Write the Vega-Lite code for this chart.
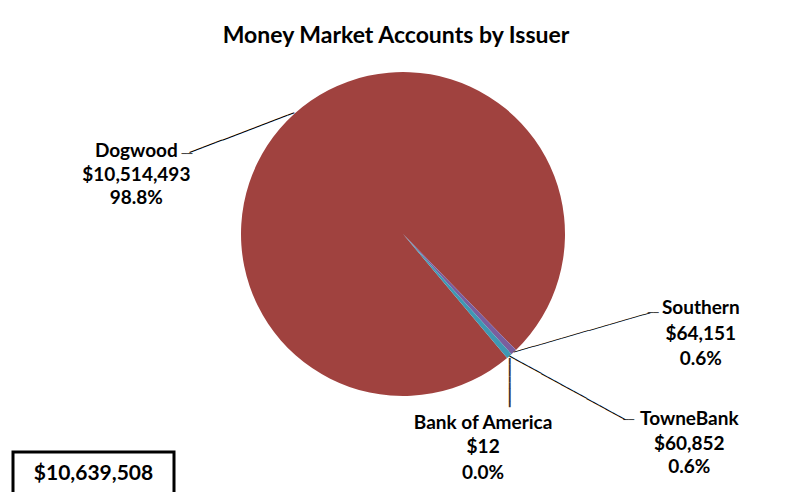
{
  "$schema": "https://vega.github.io/schema/vega-lite/v6.json",
  "padding": {"left": 11, "top": 16, "right": 0, "bottom": 0},
  "background": "white",
  "bounds": "flush",
  "spacing": 0,
  "config": {
    "view": {"stroke": null},
    "font": "Lato",
    "text": {"font": "Lato", "fontWeight": "bold", "fontSize": 19, "color": "#000000"}
  },
  "datasets": {
    "issuers": [
      {"issuer": "Bank of America", "value": 12, "share": 0.0},
      {"issuer": "Dogwood", "value": 10514493, "share": 0.988},
      {"issuer": "Southern", "value": 64151, "share": 0.006},
      {"issuer": "TowneBank", "value": 60852, "share": 0.006}
    ]
  },
  "data": {"name": "issuers"},
  "vconcat": [
    {
      "width": 780,
      "height": 436,
      "title": {"text": "Money Market Accounts by Issuer", "font": "Lato", "fontWeight": "bold", "fontSize": 23, "color": "#000000", "offset": -32, "dx": -7},
      "encoding": {
        "theta": {"field": "value", "type": "quantitative", "stack": true, "scale": {"range": [2.4435, 8.7267]}},
        "order": {"field": "issuer", "type": "ordinal", "sort": "ascending"},
        "detail": {"field": "issuer"}
      },
      "layer": [
        {
          "mark": {"type": "arc", "radius": 162},
          "encoding": {
            "color": {"field": "issuer", "type": "nominal", "legend": null,
              "scale": {"domain": ["Bank of America", "Dogwood", "Southern", "TowneBank"], "range": ["#4F81BD", "#A0423F", "#7A5E9E", "#3E98B3"]}}
          }
        },
        {"mark": {"type": "text", "radius": 162, "font": "DejaVu Sans", "fontWeight": "normal", "fontSize": 11.6, "align": "right", "baseline": "middle", "angle": -20.8},
         "encoding": {"text": {"condition": {"test": "datum.issuer === 'Dogwood'", "value": "────────────────"}, "value": ""}}},
        {"mark": {"type": "text", "radius": 162, "font": "DejaVu Sans", "fontWeight": "normal", "fontSize": 9, "align": "right", "baseline": "middle", "dx": -102, "dy": 40},
         "encoding": {"text": {"condition": {"test": "datum.issuer === 'Dogwood'", "value": "──"}, "value": ""}}},
        {"mark": {"type": "text", "radius": 162, "font": "DejaVu Sans", "fontWeight": "normal", "fontSize": 11.8, "align": "left", "baseline": "middle", "angle": -16.1},
         "encoding": {"text": {"condition": {"test": "datum.issuer === 'Southern'", "value": "────────────────────"}, "value": ""}}},
        {"mark": {"type": "text", "radius": 162, "font": "DejaVu Sans", "fontWeight": "normal", "fontSize": 9, "align": "left", "baseline": "middle", "dx": 134, "dy": -39.5},
         "encoding": {"text": {"condition": {"test": "datum.issuer === 'Southern'", "value": "──"}, "value": ""}}},
        {"mark": {"type": "text", "radius": 162, "font": "DejaVu Sans", "fontWeight": "normal", "fontSize": 12.2, "align": "left", "baseline": "middle", "angle": 28.8},
         "encoding": {"text": {"condition": {"test": "datum.issuer === 'TowneBank'", "value": "──────────────────"}, "value": ""}}},
        {"mark": {"type": "text", "radius": 162, "font": "DejaVu Sans", "fontWeight": "normal", "fontSize": 9, "align": "left", "baseline": "middle", "dx": 114, "dy": 63.8},
         "encoding": {"text": {"condition": {"test": "datum.issuer === 'TowneBank'", "value": "──"}, "value": ""}}},
        {"mark": {"type": "text", "radius": 162, "font": "DejaVu Sans", "fontWeight": "normal", "fontSize": 10.2, "align": "left", "baseline": "middle", "angle": 90, "dy": -2, "color": "#333333"},
         "encoding": {"text": {"condition": {"test": "datum.issuer === 'Bank of America'", "value": "━━━━━━━━"}, "value": ""}}},
        {"mark": {"type": "text", "radius": 162, "dx": -158, "dy": 37.5, "baseline": "middle"},
         "encoding": {"text": {"condition": {"test": "datum.issuer === 'Dogwood'", "field": "issuer"}, "value": ""}}},
        {"mark": {"type": "text", "radius": 162, "dx": -158, "dy": 61.5, "baseline": "middle"},
         "encoding": {"text": {"condition": {"test": "datum.issuer === 'Dogwood'", "field": "value", "type": "quantitative", "format": "$,.0f"}, "value": ""}}},
        {"mark": {"type": "text", "radius": 162, "dx": -158, "dy": 84.5, "baseline": "middle"},
         "encoding": {"text": {"condition": {"test": "datum.issuer === 'Dogwood'", "field": "share", "type": "quantitative", "format": ".1%"}, "value": ""}}},
        {"mark": {"type": "text", "radius": 162, "dx": 187, "dy": -44, "baseline": "middle"},
         "encoding": {"text": {"condition": {"test": "datum.issuer === 'Southern'", "field": "issuer"}, "value": ""}}},
        {"mark": {"type": "text", "radius": 162, "dx": 187, "dy": -18, "baseline": "middle"},
         "encoding": {"text": {"condition": {"test": "datum.issuer === 'Southern'", "field": "value", "type": "quantitative", "format": "$,.0f"}, "value": ""}}},
        {"mark": {"type": "text", "radius": 162, "dx": 187, "dy": 7, "baseline": "middle"},
         "encoding": {"text": {"condition": {"test": "datum.issuer === 'Southern'", "field": "share", "type": "quantitative", "format": ".1%"}, "value": ""}}},
        {"mark": {"type": "text", "radius": 162, "dx": 180, "dy": 62.5, "baseline": "middle"},
         "encoding": {"text": {"condition": {"test": "datum.issuer === 'TowneBank'", "field": "issuer"}, "value": ""}}},
        {"mark": {"type": "text", "radius": 162, "dx": 180, "dy": 87.5, "baseline": "middle"},
         "encoding": {"text": {"condition": {"test": "datum.issuer === 'TowneBank'", "field": "value", "type": "quantitative", "format": "$,.0f"}, "value": ""}}},
        {"mark": {"type": "text", "radius": 162, "dx": 180, "dy": 110.5, "baseline": "middle"},
         "encoding": {"text": {"condition": {"test": "datum.issuer === 'TowneBank'", "field": "share", "type": "quantitative", "format": ".1%"}, "value": ""}}},
        {"mark": {"type": "text", "radius": 162, "dx": -24, "dy": 64.5, "baseline": "middle"},
         "encoding": {"text": {"condition": {"test": "datum.issuer === 'Bank of America'", "field": "issuer"}, "value": ""}}},
        {"mark": {"type": "text", "radius": 162, "dx": -24, "dy": 88.5, "baseline": "middle"},
         "encoding": {"text": {"condition": {"test": "datum.issuer === 'Bank of America'", "field": "value", "type": "quantitative", "format": "$,.0f"}, "value": ""}}},
        {"mark": {"type": "text", "radius": 162, "dx": -24, "dy": 114.5, "baseline": "middle"},
         "encoding": {"text": {"condition": {"test": "datum.issuer === 'Bank of America'", "field": "share", "type": "quantitative", "format": ".1%"}, "value": ""}}}
      ]
    },
    {
      "width": 161,
      "height": 44,
      "view": {"stroke": "#000000", "strokeWidth": 3},
      "mark": {"type": "text", "fontSize": 21, "baseline": "middle"},
      "encoding": {"text": {"aggregate": "sum", "field": "value", "type": "quantitative", "format": "$,.0f"}}
    }
  ]
}
